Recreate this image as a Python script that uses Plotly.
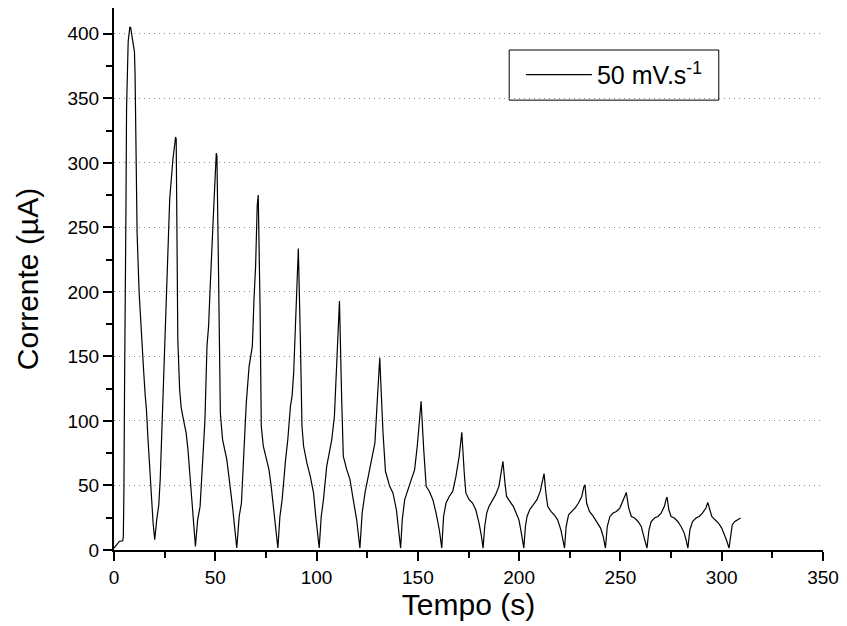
import plotly.graph_objects as go

# Data (time in s, current in uA)
tempo_s = [
    0.0, 1.3, 2.6, 4.3, 4.6, 4.9, 5.0, 5.2, 5.9, 6.2, 7.0, 7.8, 8.2, 8.8, 10.1, 10.4, 10.8,
    11.1, 11.4, 12.4, 13.6, 14.7, 15.4, 16.0, 16.8, 17.6, 18.5, 19.3, 20.1,
    21.1, 22.1, 22.8, 23.5, 24.2, 25.8, 27.5, 29.1, 30.4,
    30.7, 31.5, 32.4, 33.2, 34.8, 35.6, 36.5, 37.3, 38.1, 39.2, 40.2,
    41.3, 42.5, 43.8, 44.9, 45.9, 46.7, 47.5, 48.7, 49.5, 50.5,
    50.8, 51.6, 52.5, 53.6, 54.8, 55.7, 56.9, 58.5, 60.6,
    61.8, 62.9, 64.2, 65.3, 66.7, 68.3, 69.1, 69.9, 70.7, 71.2,
    72.1, 72.7, 73.7, 75.0, 76.5, 77.6, 78.9, 80.9,
    81.9, 83.0, 84.7, 85.8, 87.1, 87.9, 88.7, 90.0, 91.0,
    92.0, 92.8, 93.6, 95.2, 96.9, 98.5, 99.6, 101.3,
    102.3, 103.4, 105.0, 106.2, 107.5, 108.8, 110.0, 110.7, 111.3,
    112.4, 113.2, 114.9, 116.5, 118.1, 119.8, 121.4,
    122.5, 123.9, 125.5, 127.1, 128.8, 130.0, 131.2,
    131.7, 132.8, 134.0, 136.1, 137.7, 139.4, 141.5,
    142.3, 143.5, 145.1, 146.7, 148.4, 149.7, 150.8, 151.6,
    152.9, 154.1, 155.7, 157.4, 159.0, 160.6, 161.8,
    162.7, 163.9, 165.5, 167.2, 168.8, 170.4, 171.7,
    172.9, 173.7, 175.3, 177.0, 178.6, 180.2, 181.4, 182.2,
    183.0, 184.0, 185.1, 186.8, 188.4, 190.0, 191.2, 192.0,
    193.0, 193.8, 195.4, 197.1, 198.2, 199.9, 201.1, 202.3,
    203.1, 203.9, 205.2, 206.9, 208.8, 210.4, 211.4, 212.3,
    213.2, 214.1, 215.7, 217.3, 219.0, 220.6, 221.6, 222.4,
    223.2, 224.4, 226.0, 227.6, 229.3, 230.9, 232.0, 232.5,
    233.3, 234.7, 236.6, 238.6, 240.2, 241.5, 242.6,
    243.5, 244.8, 246.4, 248.0, 249.7, 251.3, 252.1, 252.9,
    254.1, 255.4, 257.0, 258.7, 260.3, 261.1, 261.9, 263.1,
    264.1, 265.2, 266.8, 268.5, 270.1, 271.7, 272.5, 273.0,
    273.9, 275.0, 276.6, 278.3, 279.9, 281.5, 282.4, 283.3,
    284.3, 285.6, 287.3, 288.9, 290.5, 292.2, 293.1,
    294.1, 295.1, 296.7, 298.4, 300.0, 301.1, 302.3, 303.6,
    304.4, 305.2, 306.5, 307.7, 309.3,
]

corrente_uA = [
    1.5, 4.0, 6.6, 7.1, 10.5, 46.7, 98.8, 124.4, 264.0, 342.0, 394.0, 405.0, 405.0, 399.0, 386.0, 368.0, 316.0,
    272.0, 246.0, 199.5, 163.0, 137.0, 120.0, 109.0, 85.6, 59.7, 41.5, 20.9, 7.9,
    23.5, 35.0, 54.5, 85.6, 116.6, 194.0, 272.0, 303.0, 320.0,
    318.5, 163.0, 124.4, 110.0, 97.0, 91.0, 78.0, 60.0, 44.4, 23.4, 2.7,
    23.4, 33.8, 70.0, 101.0, 158.0, 173.5, 204.6, 240.8, 274.5, 307.6,
    305.5, 215.0, 106.0, 85.6, 75.2, 70.0, 54.5, 33.8, 1.5,
    26.0, 36.4, 85.6, 114.0, 142.5, 158.0, 194.3, 220.0, 266.7, 275.0,
    189.0, 95.9, 80.4, 72.6, 62.3, 49.3, 28.6, 1.5,
    26.0, 39.0, 70.0, 85.6, 111.4, 119.2, 137.3, 194.3, 233.6,
    163.0, 95.9, 80.4, 67.5, 57.0, 44.2, 26.0, 1.5,
    26.0, 39.0, 64.8, 75.2, 85.6, 103.6, 142.5, 173.5, 193.0,
    116.6, 72.6, 62.3, 54.5, 39.0, 23.4, 1.5,
    28.6, 44.2, 57.0, 67.5, 83.0, 116.6, 149.0,
    130.0, 90.8, 61.0, 49.3, 44.2, 31.2, 1.5,
    23.4, 39.0, 46.7, 54.5, 62.3, 80.4, 98.5, 115.3,
    77.8, 49.3, 45.4, 39.0, 28.6, 15.7, 1.5,
    26.0, 36.4, 41.5, 45.4, 57.0, 72.6, 91.2,
    59.7, 44.2, 39.0, 36.4, 31.2, 20.9, 10.5, 1.5,
    18.2, 28.6, 33.8, 39.0, 42.9, 49.3, 59.7, 68.7,
    51.9, 41.5, 37.7, 33.8, 29.9, 23.4, 13.1, 1.5,
    18.2, 26.0, 31.2, 35.1, 39.0, 45.4, 51.9, 59.2,
    44.2, 33.8, 29.9, 27.3, 23.4, 15.6, 7.9, 1.5,
    18.2, 27.3, 29.9, 32.5, 36.4, 41.5, 49.3, 50.6,
    36.4, 29.9, 26.0, 20.9, 17.0, 10.5, 1.5,
    18.2, 26.0, 28.6, 29.9, 32.5, 37.7, 41.5, 44.6,
    32.5, 26.0, 24.8, 22.1, 18.2, 13.1, 9.2, 1.5,
    15.7, 22.1, 24.8, 26.0, 28.6, 33.8, 39.0, 41.1,
    31.2, 26.0, 24.8, 22.1, 18.2, 13.1, 7.9, 1.5,
    15.7, 22.1, 24.8, 26.0, 28.6, 32.5, 36.9,
    31.2, 26.0, 23.4, 20.9, 17.0, 13.1, 7.9, 1.5,
    13.1, 19.6, 22.1, 23.4, 24.8,
]

x_ticks = [0, 50, 100, 150, 200, 250, 300, 350]
y_ticks = [0, 50, 100, 150, 200, 250, 300, 350, 400]
series_name = "50 mV.s<sup>-1</sup>"
x_title = "Tempo (s)"
y_title = "Corrente (µA)"

FONT = "Liberation Sans, Arial, Helvetica, sans-serif"

fig = go.Figure()
fig.add_trace(go.Scatter(
    x=tempo_s, y=corrente_uA, mode="lines", name=series_name,
    line=dict(color="black", width=1.2), showlegend=True,
))

axis_common = dict(
    showline=True, linecolor="black", linewidth=2,
    ticks="outside", ticklen=9, tickwidth=2, tickcolor="black",
    zeroline=False, tickfont=dict(family=FONT, size=19, color="black"),
    mirror=False,
)

fig.update_layout(
    width=847, height=626,
    margin=dict(l=114, r=19, t=8, b=76),
    paper_bgcolor="white", plot_bgcolor="white",
    font=dict(family=FONT, color="black"),
    xaxis=dict(
        range=[0, 350], tickvals=x_ticks, showgrid=False,
        minor=dict(ticks="outside", ticklen=6, tickwidth=2, tickcolor="black", dtick=25, showgrid=False),
        title=dict(text=x_title, font=dict(family=FONT, size=30, color="black"), standoff=0),
        **axis_common,
    ),
    yaxis=dict(
        range=[0, 420], tickvals=y_ticks, showgrid=True,
        gridcolor="#8c8c8c", griddash="1px,4px", gridwidth=1,
        minor=dict(ticks="outside", ticklen=6, tickwidth=2, tickcolor="black", dtick=25, showgrid=False),
        title=dict(text=y_title, font=dict(family=FONT, size=30, color="black"), standoff=20),
        **axis_common,
    ),
    legend=dict(
        x=0.574, y=0.919, xanchor="left", yanchor="top",
        borderwidth=0, bgcolor="rgba(0,0,0,0)",
        font=dict(family=FONT, size=25, color="black"),
        itemwidth=66,
    ),
    showlegend=True,
    shapes=[dict(
        type="rect", xref="paper", yref="paper",
        x0=0.5574, x1=0.853, y0=0.830, y1=0.9225,
        line=dict(color="black", width=1), fillcolor="white", layer="below",
    )],
)

fig.write_html("out.html")
